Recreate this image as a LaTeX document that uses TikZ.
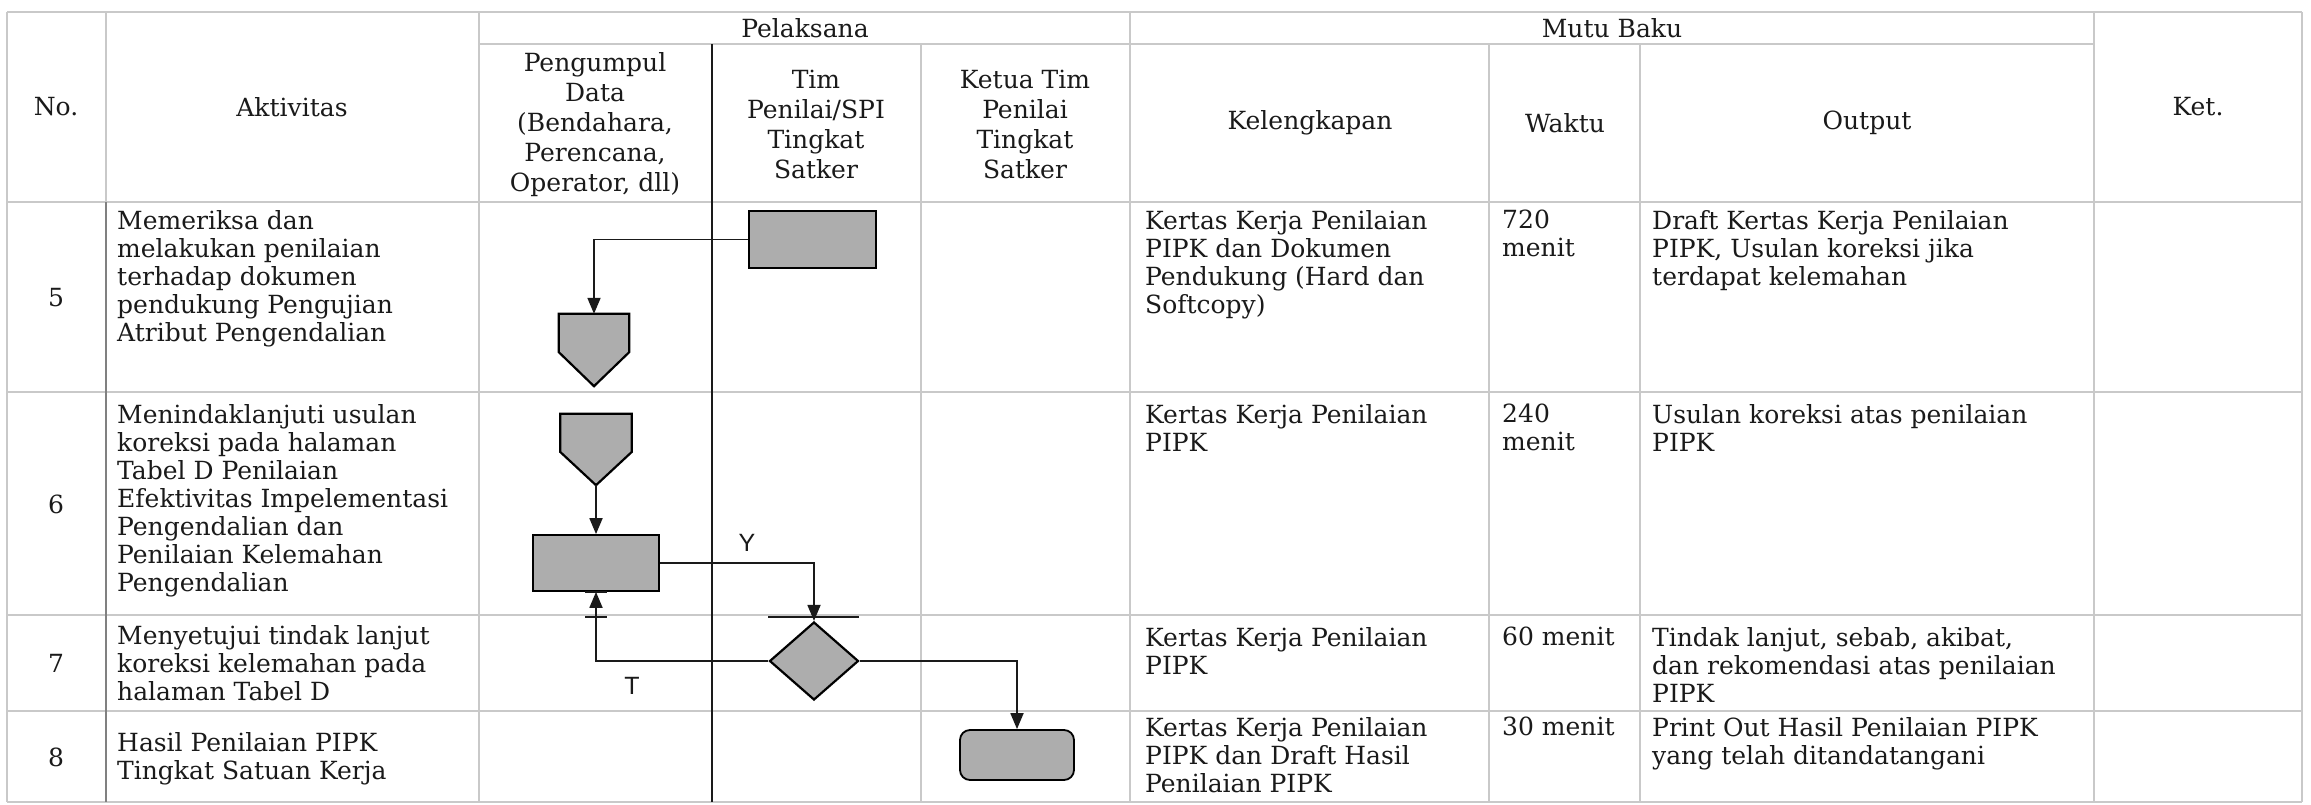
\documentclass[tikz,border=0pt]{standalone}
\usepackage{fontspec}
\setmainfont{DejaVu Serif}
\newfontfamily\lblfont{Liberation Sans}
\usetikzlibrary{shapes.geometric,arrows.meta,calc}
\definecolor{gridc}{HTML}{C9C9C9}
\definecolor{shapefill}{HTML}{ADADAD}
\definecolor{ink}{HTML}{1A1A1A}
\begin{document}
\begin{tikzpicture}[x=1pt,y=-1pt,
  grid/.style={draw=gridc, line width=2pt},
  darkgrid/.style={draw=ink, line width=1.8pt},
  midgrid/.style={draw=black!50, line width=1.5pt},
  txt/.style={font=\fontsize{25}{28}\selectfont, text=ink, inner sep=0pt, align=left, anchor=north west},
  hdr/.style={font=\fontsize{25}{30}\selectfont, text=ink, inner sep=0pt, align=center},
  num/.style={font=\fontsize{25}{28}\selectfont, text=ink, inner sep=0pt},
  lbl/.style={font=\lblfont\fontsize{25}{28}\selectfont, text=ink, inner sep=0pt},
  procbox/.style={rectangle, fill=shapefill, draw=black, line width=1.8pt, inner sep=0pt},
  termbox/.style={rectangle, rounded corners=10pt, fill=shapefill, draw=black, line width=1.8pt, inner sep=0pt},
  decbox/.style={diamond, fill=shapefill, draw=black, line width=2.2pt, inner sep=0pt},
  pentframe/.style={rectangle, draw=none, inner sep=0pt},
  pentdraw/.style={fill=shapefill, draw=black, line width=2.2pt, line join=miter},
  flow/.style={draw=ink, line width=1.8pt, -{Triangle[length=16pt,width=13pt]}},
  tickbar/.style={draw=ink, line width=1.8pt}
]
\useasboundingbox (0,0) rectangle (2311,804);
\fill[white] (0,0) rectangle (2311,804);

% ---------- table grid ----------
\draw[grid] (7,12) -- (2302,12);
\draw[grid] (479,44) -- (2094,44);
\foreach \yy in {202,392,615,711,802} \draw[grid] (7,\yy) -- (2302,\yy);
\foreach \xx in {7,479,1130,2094,2302} \draw[grid] (\xx,12) -- (\xx,802);
\foreach \xx in {921,1489,1640} \draw[grid] (\xx,44) -- (\xx,802);
\draw[grid] (106,12) -- (106,202);
\draw[midgrid] (106,202) -- (106,802);
\draw[darkgrid] (712,44) -- (712,802);

% ---------- header ----------
\node[num] (hno) at (56,107) {No.};
\node[num] (hakt) at (292,107) {Aktivitas};
\node[num] (hket) at (2198,107) {Ket.};
\node[num] (hpel) at (805,28) {Pelaksana};
\node[num] (hmutu) at (1612,28) {Mutu Baku};
\node[hdr] (hpeng) at (595,125) {Pengumpul\\Data\\(Bendahara,\\Perencana,\\Operator, dll)};
\node[hdr] (htim) at (816,124) {Tim\\Penilai/SPI\\Tingkat\\Satker};
\node[hdr] (hketua) at (1025,124) {Ketua Tim\\Penilai\\Tingkat\\Satker};
\node[num] (hkel) at (1310,123) {Kelengkapan};
\node[num] (hwaktu) at (1565,123) {Waktu};
\node[num] (hout) at (1867,123) {Output};

% ---------- row numbers ----------
\node[num] (n5) at (56,298) {5};
\node[num] (n6) at (56,504) {6};
\node[num] (n7) at (56,663) {7};
\node[num] (n8) at (56,757) {8};

% ---------- row 5 ----------
\node[txt] (a5) at (117,210) {Memeriksa dan\\melakukan penilaian\\terhadap dokumen\\pendukung Pengujian\\Atribut Pengendalian};
\node[txt] (k5) at (1145,210) {Kertas Kerja Penilaian\\PIPK dan Dokumen\\Pendukung (Hard dan\\Softcopy)};
\node[txt] (w5) at (1502,210) {720\\menit};
\node[txt] (o5) at (1652,210) {Draft Kertas Kerja Penilaian\\PIPK, Usulan koreksi jika\\terdapat kelemahan};

% ---------- row 6 ----------
\node[txt] (a6) at (117,404) {Menindaklanjuti usulan\\koreksi pada halaman\\Tabel D Penilaian\\Efektivitas Impelementasi\\Pengendalian dan\\Penilaian Kelemahan\\Pengendalian};
\node[txt] (k6) at (1145,404) {Kertas Kerja Penilaian\\PIPK};
\node[txt] (w6) at (1502,404) {240\\menit};
\node[txt] (o6) at (1652,404) {Usulan koreksi atas penilaian\\PIPK};

% ---------- row 7 ----------
\node[txt] (a7) at (117,625) {Menyetujui tindak lanjut\\koreksi kelemahan pada\\halaman Tabel D};
\node[txt] (k7) at (1145,627) {Kertas Kerja Penilaian\\PIPK};
\node[txt] (w7) at (1502,627) {60 menit};
\node[txt] (o7) at (1652,627) {Tindak lanjut, sebab, akibat,\\dan rekomendasi atas penilaian\\PIPK};

% ---------- row 8 ----------
\node[txt] (a8) at (117,732) {Hasil Penilaian PIPK\\Tingkat Satuan Kerja};
\node[txt] (k8) at (1145,717) {Kertas Kerja Penilaian\\PIPK dan Draft Hasil\\Penilaian PIPK};
\node[txt] (w8) at (1502,717) {30 menit};
\node[txt] (o8) at (1652,717) {Print Out Hasil Penilaian PIPK\\yang telah ditandatangani};

% ---------- flowchart shapes ----------
\node[procbox, minimum width=127pt, minimum height=57pt] (b1) at (812.5,239.5) {};
\node[pentframe, minimum width=70pt, minimum height=72pt] (p1) at (594,350) {};
\draw[pentdraw] (p1.north west) -- (p1.north east) -- ($(p1.north east)!0.53!(p1.south east)$) -- (p1.south) -- ($(p1.north west)!0.53!(p1.south west)$) -- cycle;

\node[pentframe, minimum width=71pt, minimum height=71pt] (p2) at (596,449.5) {};
\draw[pentdraw] (p2.north west) -- (p2.north east) -- ($(p2.north east)!0.535!(p2.south east)$) -- (p2.south) -- ($(p2.north west)!0.535!(p2.south west)$) -- cycle;

\node[procbox, minimum width=126pt, minimum height=56pt] (b2) at (596,563) {};
\node[decbox, minimum width=89pt, minimum height=78pt] (d) at (814,661) {};
\node[termbox, minimum width=114pt, minimum height=50pt] (t) at (1017,755) {};

% ---------- connectors ----------
\draw[flow] (b1.west) -| (p1.north);
\draw[flow] (p2.south) -- (b2.north);
\draw[flow] (b2.east) -| (d.north);
\draw[flow] (d.west) -| (b2.south);
\draw[flow] (d.east) -| (t.north);

% small bars on connectors
\draw[tickbar] ([xshift=-11pt]b2.south) -- ([xshift=11pt]b2.south);
\draw[tickbar] (585,617) -- (607,617);
\draw[tickbar] (768,617) -- (859,617);

% ---------- labels ----------
\node[lbl] (ly) at (747,543) {Y};
\node[lbl] (lt) at (632,686) {T};
\end{tikzpicture}
\end{document}
